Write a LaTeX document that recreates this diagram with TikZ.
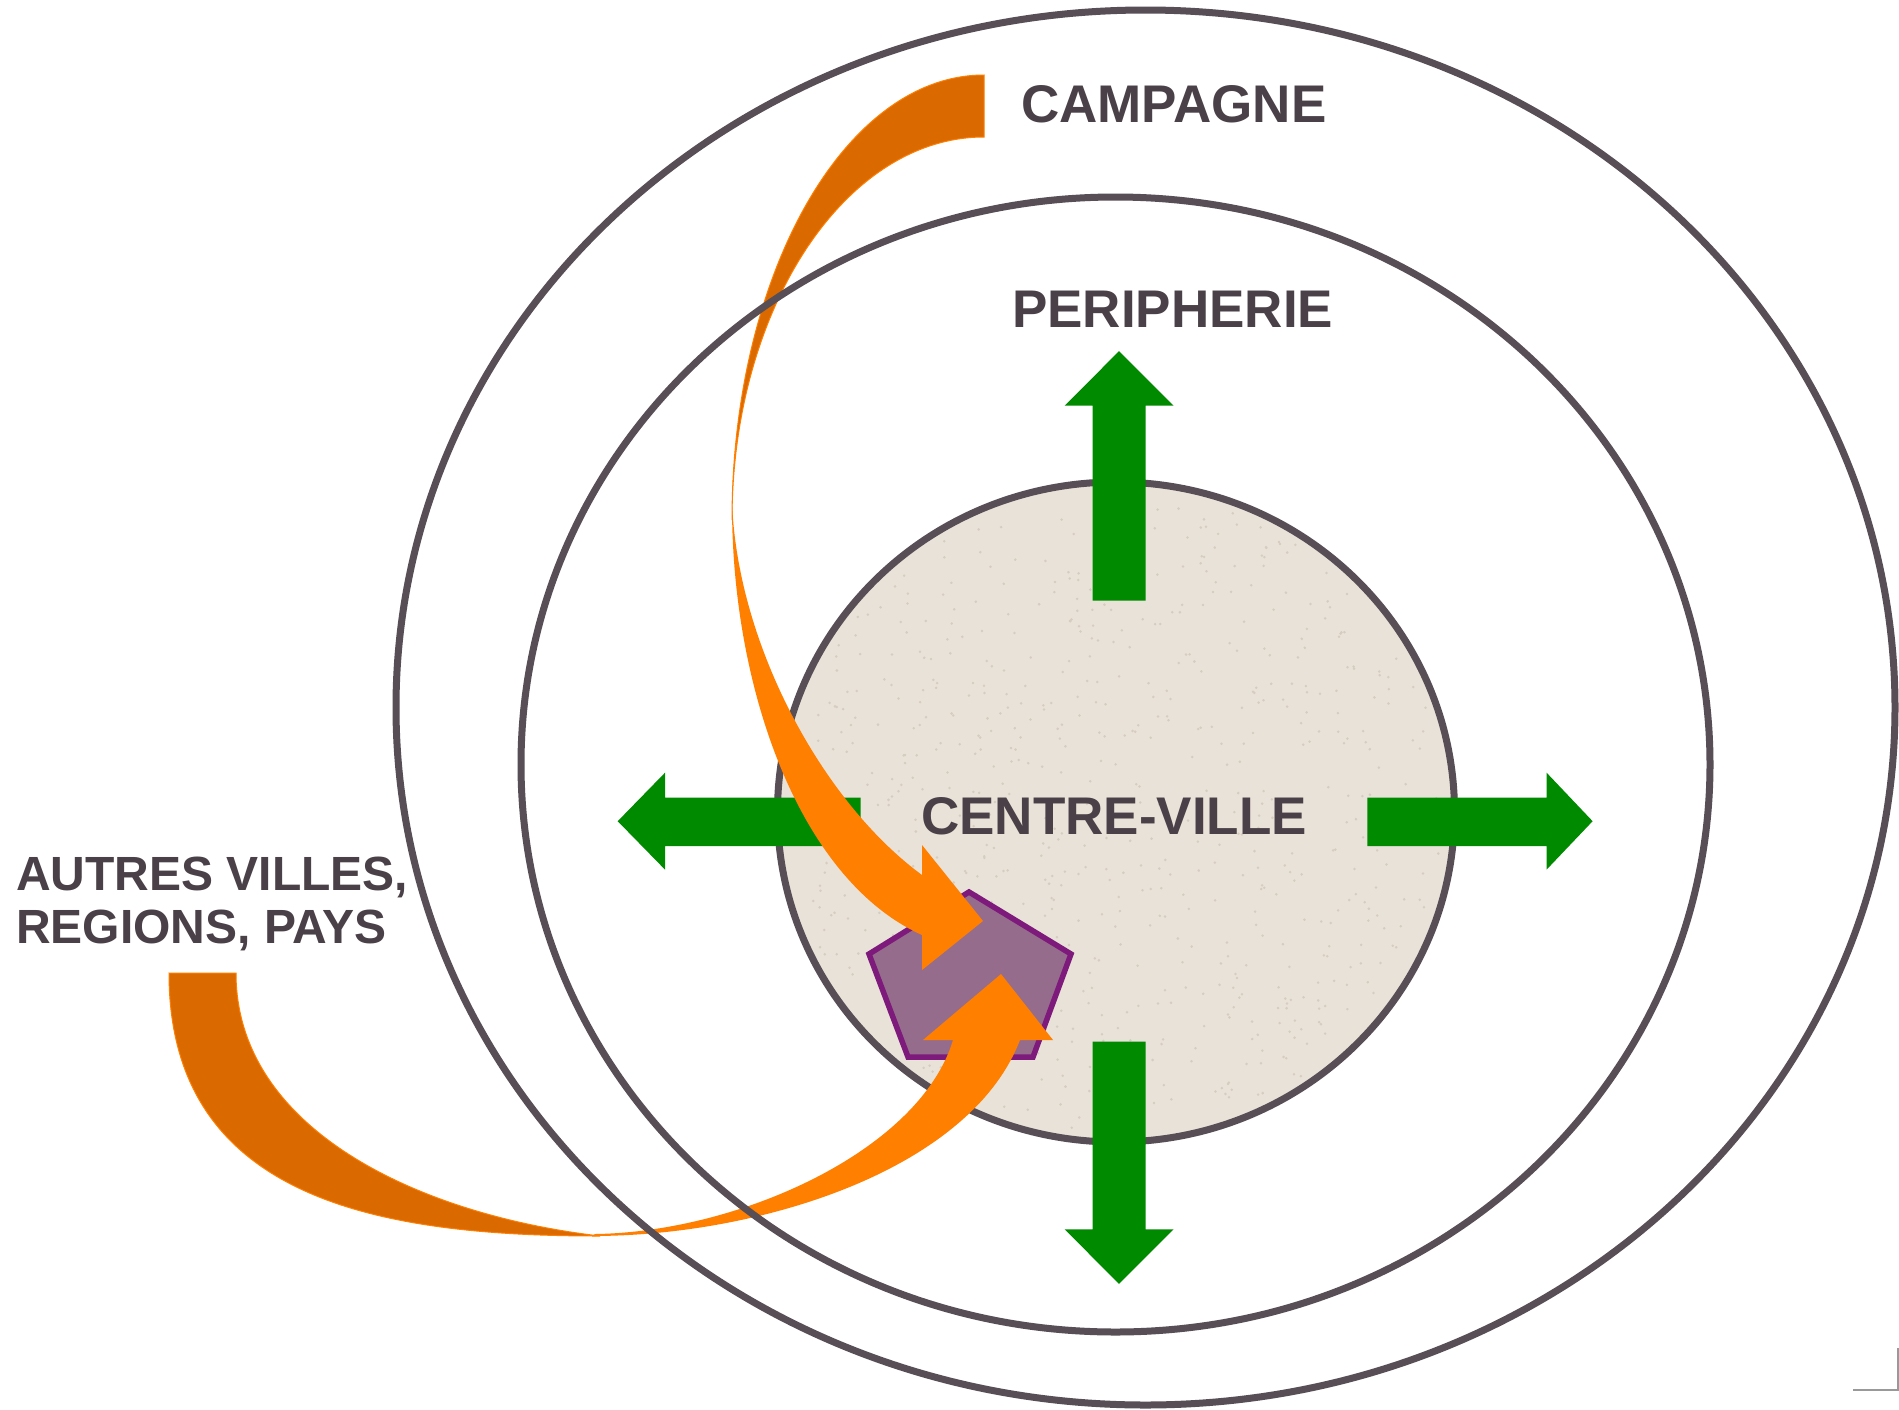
\documentclass[tikz,border=0pt]{standalone}
\usepackage{fontspec}
\setmainfont{Liberation Sans}
\usetikzlibrary{calc}
\definecolor{ringcol}{HTML}{574E56}
\definecolor{textcol}{HTML}{4A4047}
\definecolor{arrgreen}{HTML}{008A00}
\definecolor{darkor}{HTML}{DA6A00}
\definecolor{brightor}{HTML}{FF7F00}
\definecolor{beige}{HTML}{E9E2D8}
\definecolor{speck}{HTML}{D6CCBF}
\definecolor{pentfill}{HTML}{966C8C}
\definecolor{pentline}{HTML}{7D1A7B}
\tikzset{
  ring/.style={draw=ringcol, line width=7},
  bigtext/.style={inner sep=0, anchor=base west, text=textcol, font=\fontsize{53}{60}\selectfont\bfseries},
  sidetext/.style={inner sep=0, anchor=base west, text=textcol, font=\fontsize{48}{53}\selectfont\bfseries},
  greenarrow/.style={fill=arrgreen},
  backband/.style={fill=darkor, draw=brightor, line width=1},
  frontband/.style={fill=brightor},
}
\begin{document}
\begin{tikzpicture}[x=1pt,y=-1pt]
\useasboundingbox (0,0) rectangle (1899,1409);
\fill[white] (0,0) rectangle (1899,1409);
% inner circle
\fill[beige] (1116,812) ellipse [x radius=338.5, y radius=330];
\pgfmathsetseed{7}
\foreach \i in {1,...,700} {
  \pgfmathsetmacro\ang{rnd*360}
  \pgfmathsetmacro\rad{sqrt(rnd)*0.97}
  \pgfmathsetmacro\px{1116+338*\rad*cos(\ang)}
  \pgfmathsetmacro\py{812+330*\rad*sin(\ang)}
  \fill[speck] (\px,\py) circle (1.4);
}
\draw[ring] (1116,812) ellipse [x radius=338.5, y radius=330];
% green arrows
\fill[greenarrow] (1092.5,600.7) -- (1092.5,405.7) -- (1064.6,405.7) -- (1119,351.2) -- (1173.6,405.7) -- (1145.7,405.7) -- (1145.7,600.7) -- cycle;
\fill[greenarrow] (1092.5,1041.5) -- (1092.5,1229.3) -- (1064.6,1229.3) -- (1119,1283.8) -- (1173.6,1229.3) -- (1145.7,1229.3) -- (1145.7,1041.5) -- cycle;
\fill[greenarrow] (860.7,797.7) -- (665,797.7) -- (665,772.7) -- (617.7,821.2) -- (665,869.6) -- (665,846) -- (860.7,846) -- cycle;
\fill[greenarrow] (1367.3,797.7) -- (1546.6,797.7) -- (1546.6,772.7) -- (1592.6,821.2) -- (1546.6,869.6) -- (1546.6,846) -- (1367.3,846) -- cycle;
% texts
\node[bigtext] (campagne) at (1021,122) {CAMPAGNE};
\node[bigtext] (peripherie) at (1012,327) {PERIPHERIE};
\node[bigtext] (centre) at (921,834) {CENTRE-VILLE};
\node[sidetext] (autres) at (16,890) {AUTRES VILLES,};
\node[sidetext] (regions) at (16,943) {REGIONS, PAYS};
% pentagon
\draw[fill=pentfill, draw=pentline, line width=5.5, line join=miter] (969,892) -- (1071,954) -- (1033,1057) -- (908,1057) -- (869,954) -- cycle;
\coordinate (pent) at (970,985);
% arrow from campagne
\filldraw[backband] (984,75) .. controls (845,75) and (732,274) .. (732,520) .. controls (732,309) and (845,137) .. (984,137) -- cycle;
\fill[frontband] (732,506) .. controls (732,690) and (800,880) .. (922,935) -- (922,970) -- (983,921) -- (922,845) -- (922,875) .. controls (820,800) and (736,640) .. (732,500) -- cycle;
% arrow from autres villes
\filldraw[backband] (169,973) .. controls (169,1200) and (380,1236) .. (600,1236) .. controls (420,1215) and (236,1130) .. (236,973) -- cycle;
\fill[frontband] (592,1236) .. controls (760,1236) and (970,1170) .. (1020,1040) -- (1053,1040) -- (1001,974) -- (923,1040) -- (953,1040) .. controls (920,1150) and (740,1232) .. (595,1234) -- cycle;
% outer rings
\draw[ring] (1115.5,764.5) ellipse [x radius=594.5, y radius=567.5];
\draw[ring] (1145.5,707.5) ellipse [x radius=749.5, y radius=697.5];
% corner mark
\draw[black!40, line width=1.5] (1853,1390) -- (1898,1390) -- (1898,1348);
\end{tikzpicture}
\end{document}
